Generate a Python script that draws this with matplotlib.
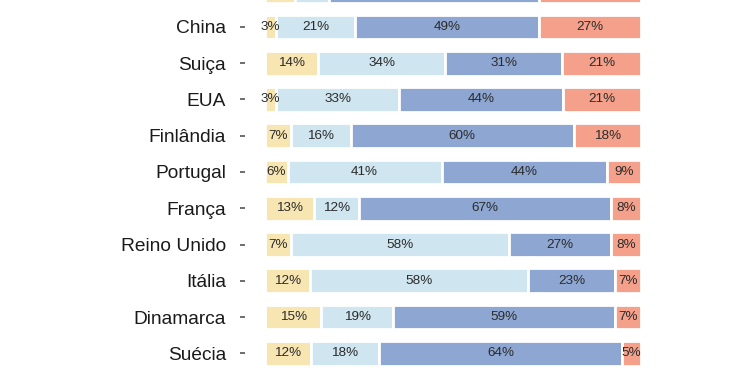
import matplotlib.pyplot as plt
import numpy as np

plt.rcParams['font.family'] = ['Liberation Sans', 'DejaVu Sans']

# countries top -> bottom (the first one is cut off by the screenshot)
paises = ['', 'China', 'Suiça', 'EUA', 'Finlândia', 'Portugal', 'França',
          'Reino Unido', 'Itália', 'Dinamarca', 'Suécia']
amarelo = [8, 3, 14, 3, 7, 6, 13, 7, 12, 15, 12]
azul_claro = [9, 21, 34, 33, 16, 41, 12, 58, 58, 19, 18]
azul = [56, 49, 31, 44, 60, 44, 67, 27, 23, 59, 64]
salmao = [27, 27, 21, 21, 18, 9, 8, 8, 7, 7, 5]

series = [amarelo, azul_claro, azul, salmao]
cores = ['#f8e6b2', '#cfe5ef', '#8da7d2', '#f4a08a']

fig = plt.figure(figsize=(7.5, 3.75), dpi=100)
ax = fig.add_axes([265 / 750, 0, 376 / 750, 1])

# move the (hidden) left spine out first; this resets the tick styling
for s in ['top', 'right', 'bottom']:
    ax.spines[s].set_visible(False)
ax.spines['left'].set_position(('outward', 14.4))
ax.spines['left'].set_visible(False)

n = len(paises)
y = np.arange(n)[::-1]
vals = np.array(series, dtype=float)
total = vals.sum(axis=0)
left = np.zeros(n)
for v, c in zip(vals, cores):
    w = v / total * 100
    ax.barh(y, w, left=left, height=0.68, color=c, edgecolor='white', linewidth=2)
    for nome, yi, li, wi, vi in zip(paises, y, left, w, v):
        if not nome:
            continue  # row cut off at the top, its labels are not visible
        ax.text(li + wi / 2, yi, f'{int(vi)}%', ha='center', va='center',
                fontsize=9.7, color='#2b2b2b')
    left += w

ax.set_xticks([])
ax.set_yticks(y)
ax.set_yticklabels(paises)
ax.tick_params(axis='y', length=3.6, width=1.2, color='#555555', pad=10,
               labelsize=13.8, labelcolor='#1a1a1a')
ax.set_xlim(0, 100)
ax.set_ylim(-0.598, 9.743)

fig.savefig('out.png', dpi=100)
